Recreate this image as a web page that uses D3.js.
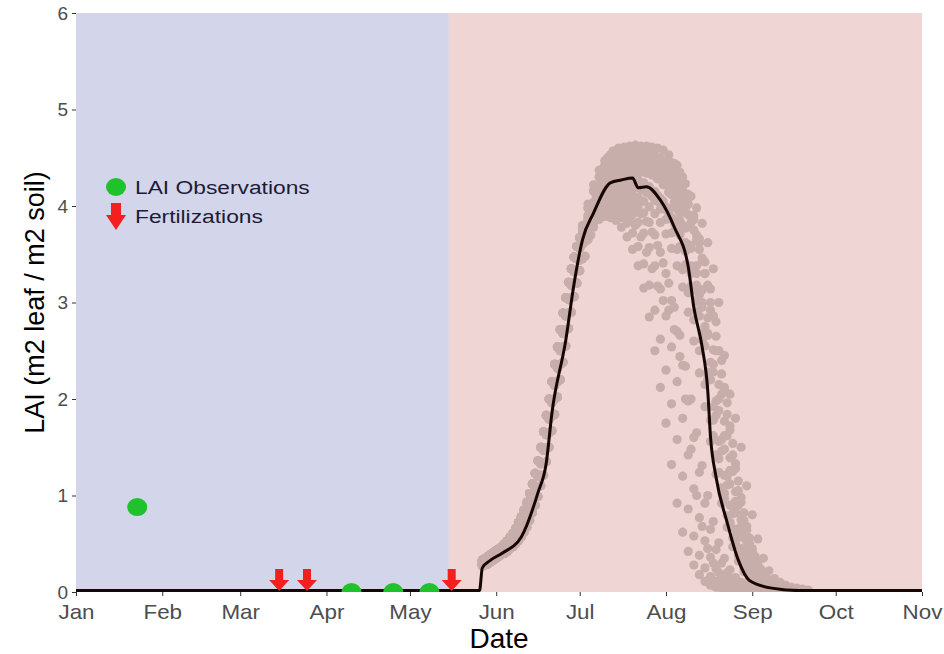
<!DOCTYPE html>
<html>
<head>
<meta charset="utf-8">
<script src="https://cdn.jsdelivr.net/npm/d3@7"></script>
<style>
  body { margin: 0; background: #fff; }
  text { font-family: "Liberation Sans", Arial, sans-serif; }
</style>
</head>
<body>
<div class="chart"></div>
<script>
// ---- data ----
var periodStart = ['2019-01-01', '2019-05-15'];
var periodEnd = ['2019-05-15', '2019-11-01'];
var periodColor = ['#d3d5eb', '#efd5d3'];

var obsDates = ['2019-01-23', '2019-04-10', '2019-04-25', '2019-05-08'];
var obsLAI = [0.88, 0, 0, 0];

var fertDates = ['2019-03-15', '2019-03-25', '2019-05-16'];

// black line (assimilated run)
var lineDates = ['2019-01-01', '2019-05-26', '2019-05-27', '2019-05-30', '2019-06-03', '2019-06-10',
  '2019-06-16', '2019-06-19', '2019-06-21', '2019-06-26', '2019-06-29', '2019-07-02', '2019-07-06',
  '2019-07-12', '2019-07-16', '2019-07-20', '2019-07-22', '2019-07-25', '2019-07-30', '2019-08-04',
  '2019-08-09', '2019-08-11', '2019-08-14', '2019-08-16', '2019-08-17', '2019-08-19', '2019-08-23',
  '2019-08-27', '2019-08-31', '2019-09-08', '2019-09-18', '2019-11-01'];
var lineLAI = [0.015, 0.015, 0.25, 0.33, 0.40, 0.57, 1.03, 1.34, 1.85, 2.61, 3.20, 3.65, 3.93,
  4.24, 4.27, 4.29, 4.19, 4.20, 4.06, 3.78, 3.37, 2.95, 2.54, 2.09, 1.61, 1.19, 0.72, 0.33, 0.12,
  0.04, 0.015, 0.015];

// ensemble: daily growth from May 27 to Jul 1 (4 variants) ...
var riseStart = '2019-05-27';
var riseEarly = [.33,.35,.37,.39,.41,.43,.45,.47,.50,.53,.57,.61,.66,.72,.78,.85,.93,1.02,1.12,1.23,1.36,1.50,1.66,1.83,2.00,2.18,2.36,2.54,2.72,2.89,3.05,3.21,3.35,3.47,3.58,3.67];
var riseMid   = [.30,.32,.34,.36,.38,.40,.42,.44,.46,.49,.52,.55,.59,.64,.69,.75,.82,.90,.99,1.09,1.20,1.33,1.47,1.63,1.79,1.96,2.14,2.32,2.50,2.68,2.86,3.03,3.18,3.32,3.45,3.56];
var riseLate  = [.28,.30,.31,.33,.35,.37,.39,.41,.43,.45,.48,.51,.54,.58,.62,.68,.74,.82,.90,.99,1.09,1.21,1.34,1.49,1.65,1.82,2.00,2.18,2.36,2.54,2.72,2.89,3.05,3.20,3.33,3.44];
var riseLast  = [.27,.28,.29,.31,.33,.35,.37,.39,.40,.42,.45,.47,.50,.53,.57,.62,.67,.74,.82,.90,.99,1.10,1.21,1.35,1.50,1.67,1.84,2.02,2.20,2.38,2.55,2.73,2.90,3.06,3.20,3.33];

// ... then each member every 2 days from its own start date (Jul 2 or Jul 3)
var tailA = [3.63,3.82,3.95,4.06,4.15,4.22,4.25,4.27,4.28,4.27,4.22,4.19,4.16,4.11,4.05,3.96,3.85,3.72,3.53,3.30,
  3.01,2.68,2.25,1.62,1.24,0.97,0.71,0.49,0.31,0.21,0.13,0.10,0.08,0.06,0.045,0.035,0.03,0.025,0.02,0.02,0.015];
var tailB = [3.68,3.76,3.83,3.87,3.89,3.88,3.85,3.78,3.68,3.55,3.38,3.15,2.85,2.50,2.12,1.75,1.32,0.92,0.62,0.42,
  0.28,0.18,0.11,0.07,0.05,0.04,0.03,0.025,0.02,0.02,0.015,0.015,0.015,0.015,0.015,0.015,0.015,0.015,0.015,0.015,0.015];
var tailC = [3.66,3.80,3.89,3.94,3.97,3.97,3.96,3.93,3.87,3.80,3.68,3.52,3.35,3.17,3.02,2.92,2.72,2.44,2.00,1.48,
  1.00,0.68,0.45,0.30,0.20,0.13,0.09,0.07,0.05,0.04,0.03,0.025,0.02,0.015,0.015,0.015,0.015,0.015,0.015,0.015,0.015];
var tailD = [3.76,3.90,3.98,4.04,4.08,4.10,4.10,4.09,4.07,4.04,4.00,3.93,3.83,3.70,3.52,3.30,3.02,2.70,2.35,1.98,
  1.60,1.24,0.92,0.65,0.44,0.30,0.20,0.14,0.10,0.07,0.05,0.04,0.03,0.025,0.02,0.015,0.015,0.015,0.015,0.015,0.015];
var tailE = [3.68,3.86,3.99,4.10,4.20,4.28,4.32,4.34,4.35,4.35,4.35,4.34,4.34,4.32,4.25,4.15,4.02,3.85,3.62,3.35,
  3.02,2.62,2.20,1.78,1.38,1.02,0.72,0.50,0.33,0.22,0.15,0.10,0.07,0.05,0.04,0.03,0.025,0.02,0.02,0.015,0.015];
var tailF = [3.65,3.87,4.04,4.18,4.30,4.38,4.43,4.46,4.47,4.48,4.48,4.48,4.47,4.47,4.46,4.46,4.45,4.42,4.30,4.12,
  3.90,3.62,3.30,2.92,2.50,2.05,1.62,1.25,0.90,0.62,0.40,0.25,0.15,0.10,0.07,0.05,0.04,0.03,0.025,0.02,0.015];
var tailG = [3.75,4.00,4.20,4.38,4.50,4.57,4.60,4.61,4.62,4.63,4.62,4.62,4.61,4.60,4.58,4.53,4.44,4.35,4.23,4.10,
  3.98,3.82,3.62,3.35,3.00,2.45,2.05,1.80,1.50,1.10,0.80,0.55,0.35,0.22,0.14,0.10,0.07,0.05,0.04,0.03,0.02];
var tailH = [3.80,3.98,4.15,4.30,4.42,4.50,4.54,4.55,4.55,4.54,4.52,4.50,4.47,4.42,4.35,4.25,4.12,3.97,3.80,3.60,
  3.36,3.08,2.75,2.38,1.98,1.58,1.20,0.88,0.60,0.40,0.26,0.17,0.11,0.08,0.06,0.045,0.035,0.03,0.025,0.02,0.015];
var tailI = [3.48,3.70,3.88,4.00,4.08,4.14,4.18,4.20,4.20,4.19,4.17,4.14,4.10,4.05,4.00,3.92,3.82,3.70,3.55,3.38,
  3.18,2.95,2.68,2.36,2.00,1.62,1.26,0.94,0.68,0.47,0.32,0.21,0.14,0.10,0.07,0.05,0.04,0.03,0.025,0.02,0.015];
var tailJ = [3.45,3.65,3.78,3.86,3.91,3.92,3.91,3.88,3.82,3.72,3.58,3.40,3.18,2.92,2.62,2.30,1.95,1.58,1.20,0.86,
  0.58,0.38,0.25,0.16,0.11,0.08,0.06,0.04,0.03,0.025,0.02,0.015,0.015,0.015,0.015,0.015,0.015,0.015,0.015,0.015,0.015];
var tailK = [3.66,3.85,3.98,4.08,4.16,4.21,4.24,4.25,4.25,4.24,4.22,4.18,4.13,4.06,3.97,3.86,3.72,3.55,3.34,3.10,
  2.82,2.50,2.15,1.78,1.42,1.08,0.79,0.56,0.38,0.25,0.17,0.11,0.08,0.06,0.045,0.035,0.03,0.025,0.02,0.015,0.015];
var tailL = [3.74,3.93,4.08,4.19,4.28,4.34,4.38,4.40,4.41,4.41,4.40,4.39,4.37,4.34,4.29,4.21,4.10,3.96,3.78,3.56,
  3.30,3.00,2.66,2.28,1.88,1.48,1.12,0.82,0.57,0.38,0.25,0.16,0.11,0.08,0.06,0.045,0.035,0.03,0.025,0.02,0.015];
var tailM = [3.60,3.78,3.90,3.96,3.99,4.00,4.00,3.99,3.96,3.91,3.83,3.72,3.57,3.38,3.14,2.86,2.54,2.18,1.80,1.42,
  1.07,0.77,0.53,0.36,0.24,0.16,0.11,0.08,0.06,0.045,0.035,0.03,0.025,0.02,0.02,0.015,0.015,0.015,0.015,0.015,0.015];
var tailN = [3.66,3.90,4.10,4.26,4.38,4.45,4.49,4.51,4.52,4.52,4.52,4.51,4.50,4.48,4.45,4.40,4.32,4.21,4.07,3.90,
  3.70,3.46,3.18,2.86,2.50,2.12,1.72,1.33,0.98,0.68,0.45,0.29,0.18,0.12,0.08,0.06,0.045,0.035,0.03,0.02,0.015];
var tailO = [3.70,3.90,4.03,4.13,4.21,4.26,4.29,4.30,4.30,4.29,4.27,4.24,4.20,4.15,4.08,3.99,3.88,3.74,3.57,3.37,
  3.13,2.86,2.55,2.20,1.83,1.46,1.11,0.81,0.57,0.38,0.25,0.16,0.11,0.08,0.06,0.045,0.035,0.03,0.025,0.02,0.015];
var tailP = [3.72,3.95,4.12,4.25,4.34,4.40,4.43,4.45,4.45,4.45,4.44,4.43,4.41,4.38,4.34,4.28,4.20,4.10,3.98,3.83,
  3.65,3.43,3.17,2.86,2.50,2.10,1.68,1.28,0.93,0.64,0.42,0.27,0.17,0.11,0.08,0.06,0.045,0.035,0.03,0.02,0.015];
var tailQ = [3.68,3.86,3.98,4.06,4.11,4.14,4.15,4.15,4.14,4.12,4.09,4.05,3.99,3.92,3.83,3.71,3.56,3.38,3.16,2.90,
  2.60,2.27,1.92,1.56,1.22,0.92,0.67,0.47,0.32,0.21,0.14,0.10,0.07,0.05,0.04,0.03,0.025,0.02,0.02,0.015,0.015];
var tailR = [3.78,4.02,4.22,4.37,4.47,4.53,4.56,4.58,4.58,4.58,4.57,4.56,4.55,4.53,4.50,4.45,4.38,4.28,4.16,4.02,
  3.86,3.66,3.42,3.14,2.80,2.40,1.96,1.54,1.15,0.82,0.56,0.37,0.24,0.15,0.10,0.07,0.05,0.04,0.03,0.02,0.015];
var tailS = [3.70,3.92,4.08,4.19,4.27,4.32,4.36,4.38,4.38,4.38,4.37,4.35,4.32,4.28,4.22,4.14,4.04,3.92,3.77,3.59,
  3.38,3.13,2.84,2.51,2.15,1.77,1.39,1.04,0.75,0.52,0.34,0.22,0.14,0.10,0.07,0.05,0.04,0.03,0.025,0.02,0.015];
var tailT = [3.64,3.82,3.93,4.00,4.04,4.05,4.05,4.04,4.02,3.98,3.92,3.84,3.73,3.59,3.41,3.20,2.95,2.66,2.34,2.00,
  1.65,1.31,1.00,0.73,0.51,0.35,0.23,0.15,0.10,0.07,0.05,0.04,0.03,0.025,0.02,0.015,0.015,0.015,0.015,0.015,0.015];
var tailU = [3.74,3.98,4.16,4.30,4.40,4.46,4.49,4.50,4.50,4.49,4.48,4.46,4.44,4.41,4.37,4.31,4.24,4.15,4.04,3.91,
  3.75,3.55,3.30,3.00,2.65,2.26,1.84,1.42,1.05,0.74,0.50,0.32,0.20,0.13,0.09,0.06,0.045,0.035,0.03,0.02,0.015];
var tailV = [3.66,3.86,3.99,4.08,4.14,4.18,4.21,4.22,4.22,4.21,4.19,4.16,4.11,4.05,3.97,3.87,3.74,3.58,3.39,3.17,
  2.91,2.61,2.28,1.92,1.56,1.21,0.90,0.65,0.45,0.30,0.20,0.13,0.09,0.07,0.05,0.04,0.03,0.025,0.02,0.015,0.015];

var memberRise = [riseLate, riseEarly, riseMid, riseEarly, riseMid, riseLate, riseEarly, riseEarly, riseLast, riseLast, riseMid,
  riseEarly, riseLate, riseLate, riseMid, riseLate, riseLast, riseEarly, riseMid, riseLate, riseEarly, riseLast];
var memberTail = [tailA, tailB, tailC, tailD, tailE, tailF, tailG, tailH, tailI, tailJ, tailK,
  tailL, tailM, tailN, tailO, tailP, tailQ, tailR, tailS, tailT, tailU, tailV];
var memberTailStart = ['2019-07-03', '2019-07-02', '2019-07-03', '2019-07-02', '2019-07-03', '2019-07-02', '2019-07-03',
  '2019-07-02', '2019-07-03', '2019-07-02', '2019-07-02', '2019-07-03', '2019-07-02', '2019-07-03', '2019-07-02',
  '2019-07-03', '2019-07-02', '2019-07-02', '2019-07-03', '2019-07-03', '2019-07-02', '2019-07-03'];

var yTicks = [0, 1, 2, 3, 4, 5, 6];
var legendLabels = ['LAI Observations', 'Fertilizations'];

// ---- layout ----
var width = 944;
var height = 654;
var parse = d3.timeParse('%Y-%m-%d');

var x = d3.scaleTime()
  .domain([parse('2019-01-01'), parse('2019-11-01')])
  .range([76, 922]);
var y = d3.scaleLinear().domain([0, 6]).range([592, 13]);

var svg = d3.select('.chart')
  .append('svg')
  .attr('width', width)
  .attr('height', height);

svg.append('clipPath').attr('id', 'panel')
  .append('rect')
  .attr('x', x.range()[0]).attr('y', y(6))
  .attr('width', x.range()[1] - x.range()[0])
  .attr('height', y(0) - y(6));

var plot = svg.append('g').attr('clip-path', 'url(#panel)');

// background periods
plot.selectAll('.period')
  .data(periodStart)
  .enter().append('rect')
  .attr('class', 'period')
  .attr('x', function(d){ return x(parse(d)) })
  .attr('y', y(6))
  .attr('width', function(d, i){ return x(parse(periodEnd[i])) - x(parse(d)) })
  .attr('height', y(0) - y(6))
  .attr('fill', function(d, i){ return periodColor[i] });

// ensemble dots
var ensPoints = [];
var r0 = parse(riseStart);
memberTail.forEach(function(tail, k){
  memberRise[k].forEach(function(v, i){
    ensPoints.push({date: d3.timeDay.offset(r0, i), lai: v});
  });
  var t0 = parse(memberTailStart[k]);
  tail.forEach(function(v, i){
    ensPoints.push({date: d3.timeDay.offset(t0, i * 2), lai: v});
  });
});

plot.selectAll('.ens')
  .data(ensPoints)
  .enter().append('circle')
  .attr('class', 'ens')
  .attr('cx', function(d){ return x(d.date) })
  .attr('cy', function(d){ return y(d.lai) })
  .attr('r', 4.6)
  .attr('fill', '#c8aeab');

// assimilated line
var line = d3.line()
  .x(function(d, i){ return x(parse(lineDates[i])) })
  .y(function(d){ return y(d) })
  .curve(d3.curveMonotoneX);

plot.append('path')
  .datum(lineLAI)
  .attr('d', line)
  .attr('fill', 'none')
  .attr('stroke', '#170606')
  .attr('stroke-width', 3)
  .attr('stroke-linejoin', 'round');

// observations
plot.selectAll('.obs')
  .data(obsDates)
  .enter().append('ellipse')
  .attr('class', 'obs')
  .attr('cx', function(d){ return x(parse(d)) })
  .attr('cy', function(d, i){ return y(obsLAI[i]) })
  .attr('rx', 10)
  .attr('ry', 9)
  .attr('fill', '#1fc22b');

// fertilization arrows
var arrowPath = 'M-4,-22H4V-11H10L0,0L-10,-11H-4Z';
plot.selectAll('.fert')
  .data(fertDates)
  .enter().append('path')
  .attr('class', 'fert')
  .attr('d', arrowPath)
  .attr('transform', function(d){ return 'translate(' + x(parse(d)) + ',' + (y(0) - 1) + ')' })
  .attr('fill', '#f41f1f');

// axes
var xAxis = svg.append('g')
  .attr('transform', 'translate(0,' + y(0) + ')')
  .call(d3.axisBottom(x)
    .ticks(d3.timeMonth.every(1))
    .tickFormat(d3.timeFormat('%b'))
    .tickSize(4)
    .tickPadding(9));
xAxis.select('.domain').remove();
xAxis.selectAll('line').attr('stroke', '#333');
xAxis.selectAll('text').attr('fill', '#4d4d4d').attr('font-size', '20px')
  .attr('font-family', '"Liberation Sans", Arial, sans-serif')
  .attr('transform', 'scale(1.12,1)');

var yAxis = svg.append('g')
  .attr('transform', 'translate(' + x.range()[0] + ',0)')
  .call(d3.axisLeft(y).tickValues(yTicks).tickFormat(d3.format('d')).tickSize(4).tickPadding(4));
yAxis.select('.domain').remove();
yAxis.selectAll('line').attr('stroke', '#333');
yAxis.selectAll('text').attr('fill', '#4d4d4d').attr('font-size', '19px')
  .attr('font-family', '"Liberation Sans", Arial, sans-serif');

svg.append('text')
  .attr('x', (x.range()[0] + x.range()[1]) / 2)
  .attr('y', 648)
  .attr('text-anchor', 'middle')
  .attr('font-size', '28px')
  .text('Date');

svg.append('text')
  .attr('transform', 'translate(44,' + (y(0) + y(6)) / 2 + ') rotate(-90)')
  .attr('text-anchor', 'middle')
  .attr('font-size', '27px')
  .text('LAI (m2 leaf / m2 soil)');

// legend
var legend = svg.append('g').attr('transform', 'translate(116,187)');
legend.append('ellipse').attr('rx', 10).attr('ry', 9).attr('fill', '#1fc22b');
legend.append('path')
  .attr('d', 'M-5,-13H5V-1H10L0,14L-10,-1H-5Z')
  .attr('transform', 'translate(0,29)')
  .attr('fill', '#f41f1f');
legend.selectAll('.leg')
  .data(legendLabels)
  .enter().append('text')
  .attr('class', 'leg')
  .attr('transform', function(d, i){ return 'translate(19,' + (7 + i * 29) + ') scale(1.2,1)' })
  .attr('font-size', '19px')
  .attr('fill', '#1c1c38')
  .text(function(d){ return d });
</script>
</body>
</html>
